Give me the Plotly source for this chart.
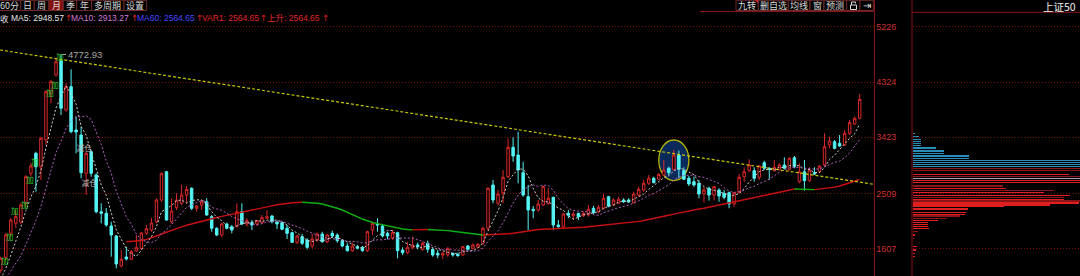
import plotly.graph_objects as go
import pandas as pd

# ---------------- data ----------------
opens = [1260,1467,1858,2021,2042,2347,2836,3162,2944,3379,4140,4439,4672,3868,4248,3542,3460,2836,3188,2809,
         2210,2184,1977,1814,1325,1472,1434,1570,1614,1858,1912,2047,2401,2862,2047,2276,2347,2482,2592,2266,
         2320,2373,2129,1940,1830,2010,1966,1966,2210,2010,2031,2010,2031,2103,2140,2047,2031,1940,1868,1712,
         1803,1749,1651,1749,1847,1721,1858,1830,1738,1651,1575,1640,1630,1575,1912,2010,1977,1858,1777,1868,
         1586,1542,1630,1668,1597,1695,1597,1532,1505,1505,1532,1516,1505,1651,1614,1630,1695,1940,2646,2347,
         2520,2781,3260,3134,2846,2455,2249,2238,2320,2347,2445,1994,1966,2184,2145,2184,2145,2157,2266,2210,
         2266,2455,2320,2347,2401,2401,2357,2482,2564,2673,2755,2738,2809,2918,2901,3134,2879,2755,2699,2673,
         2499,2592,2482,2564,2510,2520,2336,2520,2781,2879,2879,2771,3009,2918,2879,2901,2972,2901,3090,2699,
         2862,2716,2846,2862,2972,3298,3351,3325,3298,3488,3640,3733]
highs = [1477,1863,2108,2238,2352,2809,3004,3188,3433,4194,4357,4716,4772.93,4303,4531,3759,3596,3188,3216,2836,
         2347,2271,2047,1830,1586,1640,1586,1830,1884,1994,2108,2429,2846,2874,2429,2510,2646,2629,2608,2320,
         2401,2429,2157,1956,2031,2031,1994,2347,2347,2103,2075,2075,2157,2238,2157,2064,2047,1994,1884,1830,
         1847,1777,1847,1868,1884,1847,1901,1858,1760,1695,1705,1668,1651,1901,2047,2103,1994,1884,1912,1884,
         1630,1721,1803,1705,1721,1738,1614,1586,1558,1630,1542,1542,1651,1668,1695,1700,1966,2608,2727,2564,
         2890,3407,3423,3514,3025,2646,2303,2401,2630,2597,2455,2075,2194,2238,2210,2194,2210,2320,2303,2320,
         2499,2466,2429,2455,2429,2429,2536,2618,2727,2809,2781,2836,3053,2944,3216,3205,2934,2792,2781,2727,
         2618,2618,2629,2592,2564,2536,2536,2825,2934,3064,2934,2972,3042,2934,3053,2999,3097,3097,3118,2999,
         3053,2934,2934,2972,3488,3433,3379,3460,3542,3705,3759,4129]
lows = [1211,1423,1803,1945,2010,2292,2781,2536,2727,3298,3977,4411,3787,3840,3488,3162,2755,2482,2781,2184,
        2021,1966,1477,1288,1304,1415,1423,1558,1586,1830,1884,2021,2373,2064,2021,2238,2320,2347,2238,2210,
        2238,2145,1884,1814,1793,1923,1858,1956,1994,1966,1912,1977,2010,2103,2021,1928,1912,1765,1700,1684,
        1668,1597,1614,1721,1705,1695,1782,1705,1630,1558,1558,1597,1558,1558,1830,1884,1793,1760,1749,1451,
        1505,1521,1597,1597,1575,1542,1477,1451,1434,1477,1477,1477,1493,1586,1597,1614,1668,1912,2347,2320,
        2347,2760,3025,2673,2455,1912,2103,2210,2303,2320,1912,1940,1940,2103,2075,2075,2124,2129,2173,2184,
        2249,2282,2303,2336,2352,2352,2347,2455,2536,2646,2673,2727,2792,2809,2879,2755,2727,2629,2618,2429,
        2357,2390,2390,2373,2412,2266,2292,2510,2699,2862,2699,2727,2890,2727,2862,2879,2901,2879,2918,2673,
        2553,2699,2809,2846,2955,3244,3227,3270,3281,3460,3624,3716]
closes = [1451,1830,2075,2129,2320,2781,2955,2944,3407,4166,4329,4655,3896,4248,3514,3509,2846,3162,2836,2210,
          2184,1994,1830,1358,1434,1439,1558,1624,1863,1933,2026,2401,2836,2075,2222,2401,2482,2575,2266,2303,
          2373,2157,1940,1830,2010,1940,1912,2210,2010,2064,1994,2064,2113,2129,2047,2010,1923,1858,1712,1814,
          1695,1630,1765,1847,1721,1830,1814,1738,1651,1575,1651,1614,1575,1884,2021,1994,1814,1814,1868,1575,
          1542,1630,1668,1640,1695,1597,1505,1505,1532,1614,1505,1493,1640,1597,1668,1679,1940,2592,2401,2499,
          2771,3260,3118,2890,2482,2238,2227,2336,2618,2429,1994,1966,2173,2152,2173,2129,2184,2249,2194,2282,
          2429,2303,2401,2412,2373,2368,2499,2575,2673,2755,2683,2820,2890,2846,3134,2901,2738,2662,2646,2499,
          2564,2482,2618,2466,2445,2336,2520,2771,2862,2972,2755,2955,2918,2901,2934,2972,2918,3081,2944,2862,
          2716,2890,2825,2955,3270,3363,3244,3281,3488,3661,3733,4042]
# closes of the months just before the first visible candle (needed by MA5 / MA10)
pre_closes = [880, 920, 960, 1010, 1000, 980, 990, 1060, 1100]

# long direction-coloured average line (VAR1 / 上升), starting at candle 25
ma60_start = 25
ma60 = [1721,1725,1733,1741,1760,1782,1814,1847,1879,1912,1938,1964,1990,2013,2036,2059,2078,2098,2116,2134,
        2150,2166,2183,2199,2218,2235,2251,2271,2289,2306,2323,2336,2347,2355,2360,2364,2362,2355,2347,2336,
        2316,2293,2266,2238,2205,2165,2127,2091,2059,2034,2016,1997,1979,1961,1945,1928,1919,1914,1915,1917,
        1919,1917,1914,1909,1902,1892,1883,1871,1858,1847,1835,1830,1832,1834,1837,1842,1850,1860,1873,1888,
        1902,1912,1919,1925,1928,1932,1935,1938,1941,1945,1948,1956,1964,1972,1981,1989,1997,2005,2013,2021,
        2029,2039,2052,2067,2082,2098,2114,2134,2153,2171,2189,2205,2222,2238,2254,2266,2284,2302,2320,2337,
        2355,2373,2391,2409,2427,2445,2465,2482,2499,2515,2531,2548,2564,2580,2577,2575,2572,2570,2577,2584,
        2593,2610,2629,2652,2678,2707,2738]

# yellow trend line (two anchor points, in candle index / price)
trend_x = [-0.15, 173.75]
trend_y = [4846, 2657]

# signal labels
buy_idx = [1, 2, 3, 5, 6, 7, 10, 11, 12]
buy_price = [1382, 1774, 2205, 2306, 2714, 3004, 4134, 4263, 4720]
sell_idx = [17, 18]
sell_price = [3224, 2662]

# price axis ticks
tick_vals = [1607, 2509, 3423, 4324, 5226]

# legend values
ma_names = ["MA5", "MA10", "MA60", "VAR1", "上升"]
ma_values = [2948.57, 2913.27, 2564.65, 2564.65, 2564.65]

# chip distribution (right panel): price level and bar length
chip_blue_price = [3488, 3433, 3390, 3358, 3325, 3293, 3249, 3200, 3162, 3118, 3081, 3048, 3015, 2983, 2950]
chip_blue_len = [2, 6, 8, 8, 8, 8, 23, 31, 31, 56, 56, 167, 167, 167, 167]
chip_red_price = [2820, 2722, 2690, 2592, 2520, 2478, 2412, 2352, 2320, 2292, 2254, 2194, 2168, 2064, 2031,
                  1998, 1966, 1933, 1830, 1777, 1640, 1586, 1532, 1477]
chip_red_len = [156, 167, 167, 93, 131, 157, 151, 166, 137, 91, 55, 53, 52, 25, 15, 15, 15, 16, 2, 1, 4, 3, 2, 2]
chip_dark_price = [2918, 2879, 2781, 2629, 2553, 2445, 2385, 2140, 2096, 1884]
chip_dark_len = [167, 167, 167, 90, 141, 151, 167, 47, 34, 5]
chip_gray_price = [2755]
chip_gray_len = [167]

# ---------------- figure ----------------
W, H = 1080, 276
RED = "#dc2828"
CYAN = "#54f4f4"
BG = "#000000"
AXRED = "#8a1414"


def fx(p):
    return p / W


def fy(p):
    return 1 - p / H


idx = list(range(len(closes)))
allc = pd.Series(pre_closes + closes)
ma5 = allc.rolling(5).mean().iloc[len(pre_closes):].tolist()
ma10 = allc.rolling(10).mean().iloc[len(pre_closes):].tolist()

fig = go.Figure()

# direction coloured long average
ma_idx = list(range(ma60_start, ma60_start + len(ma60)))
runs = []
for k in range(len(ma60) - 1):
    col = "#10b010" if ma60[k + 1] < ma60[k] else "#c81010"
    if runs and runs[-1][0] == col:
        runs[-1][2] = k + 1
    else:
        runs.append([col, k, k + 1])
for col, a, b in runs:
    fig.add_trace(go.Scatter(x=ma_idx[a:b + 1], y=ma60[a:b + 1], mode="lines",
                             line=dict(color=col, width=1.4), hoverinfo="skip", showlegend=False))

fig.add_trace(go.Candlestick(
    x=idx, open=opens, high=highs, low=lows, close=closes,
    increasing=dict(line=dict(color=RED, width=1), fillcolor=BG),
    decreasing=dict(line=dict(color=CYAN, width=1), fillcolor=CYAN),
    whiskerwidth=0, hoverinfo="skip", showlegend=False))

fig.add_trace(go.Scatter(x=idx, y=ma5, mode="lines", line=dict(color="#d0d0d0", width=1, dash="2px,2px"),
                         hoverinfo="skip", showlegend=False))
fig.add_trace(go.Scatter(x=idx, y=ma10, mode="lines", line=dict(color="#b060c0", width=1, dash="2px,2px"),
                         hoverinfo="skip", showlegend=False))
fig.add_trace(go.Scatter(x=trend_x, y=trend_y, mode="lines", line=dict(color="#c8c800", width=1.2, dash="3px,2px"),
                         hoverinfo="skip", showlegend=False))

fig.add_trace(go.Scatter(x=[i - 0.2 for i in buy_idx], y=buy_price, mode="text", text=["加"] * len(buy_idx),
                         textfont=dict(color="#30d030", size=7.5, family="Noto Sans CJK SC"),
                         hoverinfo="skip", showlegend=False))
fig.add_trace(go.Scatter(x=[i - 0.4 for i in sell_idx], y=sell_price, mode="text", text=["减仓"] * len(sell_idx),
                         textfont=dict(color="#b8b8b8", size=7.5, family="Noto Sans CJK SC"),
                         hoverinfo="skip", showlegend=False))

# chip distribution panel
for pr, ln, col in [(chip_blue_price, chip_blue_len, "#2a8cb8"),
                    (chip_red_price, chip_red_len, "#e02020"),
                    (chip_dark_price, chip_dark_len, "#8c1414"),
                    (chip_gray_price, chip_gray_len, "#a0a0a0")]:
    fig.add_trace(go.Bar(x=ln, y=pr, orientation="h", width=24, marker=dict(color=col, line=dict(width=0)),
                         xaxis="x2", yaxis="y", hoverinfo="skip", showlegend=False))

shapes = []

# peak label with a short leader
pk = max(range(len(highs)), key=lambda i: highs[i])
annotations = [dict(x=pk + 1, y=highs[pk], xref="x", yref="y", text="%.2f" % highs[pk], showarrow=False,
                    xanchor="left", yanchor="middle", xshift=0,
                    font=dict(size=9.5, color="#a8a8a8", family="Liberation Sans"))]
shapes.append(dict(type="line", xref="x", yref="y", x0=pk + 0.3, x1=pk + 1, y0=highs[pk], y1=highs[pk],
                   line=dict(color="#a8a8a8", width=1), layer="above"))


def ptext(x, y, text, size, color, family, xanchor="left"):
    return dict(x=fx(x), y=fy(y), xref="paper", yref="paper", text=text, showarrow=False,
                xanchor=xanchor, yanchor="middle", font=dict(size=size, color=color, family=family))


# legend row
LY = 18.3
leg_x = [9.3, 69.3, 135, 200, 265]
leg_col = ["#e6e6e6", "#d27ad2", "#4848ff", "#e02828", "#e02828"]
arrow_x = [63, 128.5, 193.5, 258.3, 320]
annotations.append(ptext(-2.5, LY, "收", 8.5, "#e6e6e6", "Noto Sans CJK SC"))
for n, v, xx, c, ax in zip(ma_names, ma_values, leg_x, leg_col, arrow_x):
    annotations.append(ptext(xx, LY, "%s: %.2f" % (n, v), 8.5, c, "Liberation Sans, Noto Sans CJK SC"))
    annotations.append(ptext(ax, LY, "↑", 8.5, "#e02020", "DejaVu Sans"))

# toolbars
BOX = "#6e2a2a"
TY = 5.2
left_edges = [-3, 20.7, 34.3, 49, 63.3, 76.7, 91.7, 124, 146.7]
left_labels = ["60分", "日", "周", "月", "季", "年", "多周期", "设置"]
for k, lab in enumerate(left_labels):
    a, b = left_edges[k], left_edges[k + 1]
    shapes.append(dict(type="rect", xref="paper", yref="paper", x0=fx(a), x1=fx(b), y0=fy(10.5), y1=fy(0.3),
                       line=dict(color=BOX, width=1), fillcolor="#8a1010" if lab == "月" else BG, layer="above"))
    annotations.append(ptext((a + b) / 2 + (0.5 if k == 0 else 0), TY, lab, 9, "#d8d8d8",
                             "Noto Sans CJK SC", xanchor="center"))
right_edges = [736, 758.3, 788.3, 810, 824, 846.7, 860, 873.3]
right_labels = ["九转", "删自选", "均线", "窗", "预测", "", "⇥"]
for k, lab in enumerate(right_labels):
    a, b = right_edges[k], right_edges[k + 1]
    shapes.append(dict(type="rect", xref="paper", yref="paper", x0=fx(a), x1=fx(b), y0=fy(10.5), y1=fy(0.3),
                       line=dict(color=BOX, width=1), fillcolor=BG, layer="above"))
    if lab:
        annotations.append(ptext((a + b) / 2, TY, lab, 9 if lab != "⇥" else 10, "#d8d8d8",
                                 "Noto Sans CJK SC" if lab != "⇥" else "DejaVu Sans", xanchor="center"))
# red corner mark on 九转
shapes.append(dict(type="path", xref="paper", yref="paper",
                   path="M %f %f L %f %f L %f %f Z" % (fx(755), fy(0), fx(758.3), fy(0), fx(758.3), fy(3.3)),
                   fillcolor="#e02020", line=dict(width=0), layer="above"))
# lock icon
shapes.append(dict(type="rect", xref="paper", yref="paper", x0=fx(850.5), x1=fx(856.5), y0=fy(9.5), y1=fy(5),
                   line=dict(color="#d8d8d8", width=1), fillcolor=BG, layer="above"))
shapes.append(dict(type="path", xref="paper", yref="paper",
                   path="M %f %f L %f %f L %f %f L %f %f" % (fx(851.5), fy(5), fx(851.5), fy(2),
                                                             fx(855.5), fy(2), fx(855.5), fy(3.5)),
                   line=dict(color="#d8d8d8", width=1), layer="above"))

# frame lines
shapes.append(dict(type="line", xref="paper", yref="paper", x0=fx(700), x1=fx(873.5), y0=fy(11.5), y1=fy(11.5),
                   line=dict(color=AXRED, width=1), layer="above"))
shapes.append(dict(type="line", xref="paper", yref="paper", x0=fx(912), x1=fx(912), y0=0, y1=1,
                   line=dict(color=AXRED, width=1), layer="above"))
shapes.append(dict(type="line", xref="paper", yref="paper", x0=fx(912), x1=1, y0=fy(12.3), y1=fy(12.3),
                   line=dict(color=AXRED, width=1), layer="above"))

# highlighted ellipse
shapes.append(dict(type="circle", xref="x", yref="y", x0=131.0, x1=137.0, y0=2716, y1=3379,
                   fillcolor="#0b2a5c", line=dict(color="#b4b400", width=1.3), layer="below"))

annotations.append(ptext(1078, 6.3, "上证50", 10.5, "#f0f0f0", "Noto Sans CJK SC", xanchor="right"))

fig.update_layout(
    width=W, height=H, margin=dict(l=0, r=0, t=0, b=0), autosize=False,
    paper_bgcolor=BG, plot_bgcolor=BG, showlegend=False, bargap=0,
    xaxis=dict(domain=[0, 873.5 / W], range=[-0.15, 173.75], showgrid=False, zeroline=False,
               showticklabels=False, showline=False, ticks="", rangeslider=dict(visible=False), fixedrange=True),
    yaxis=dict(domain=[0, 1], range=[1162.2, 5661], side="right", anchor="x", tickvals=tick_vals,
               ticktext=[str(v) for v in tick_vals], ticks="", ticklabelstandoff=0,
               tickfont=dict(size=9, color="#d03030", family="Liberation Sans"),
               showgrid=True, gridcolor="#7a0c0c", griddash="1px,2px", gridwidth=1,
               showline=True, linecolor=AXRED, linewidth=1, zeroline=False, fixedrange=True),
    xaxis2=dict(domain=[912.5 / W, 1], range=[0, 167.5], anchor="y", visible=False, fixedrange=True),
    shapes=shapes, annotations=annotations,
)

fig.write_html("out.html", config={"displayModeBar": False, "staticPlot": True})
